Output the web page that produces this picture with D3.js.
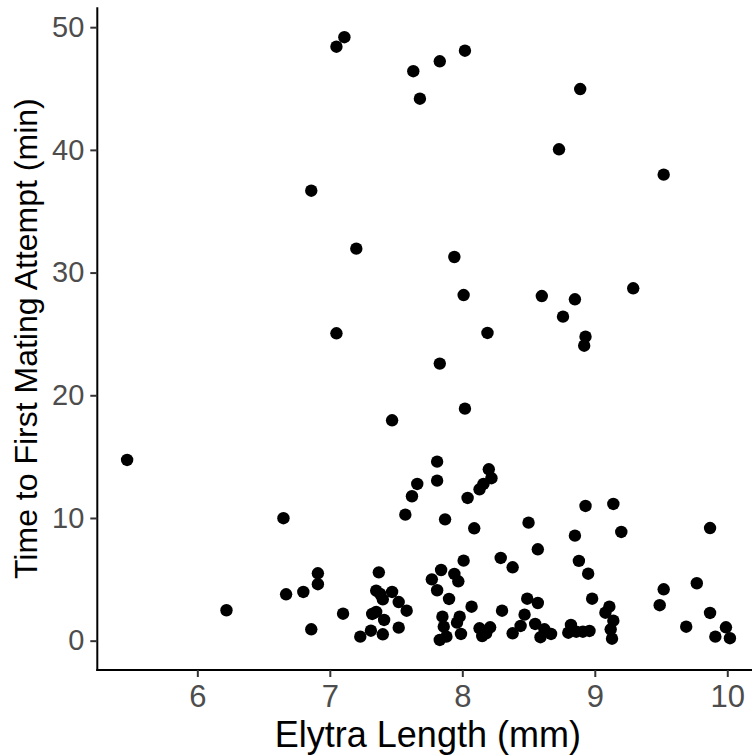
<!DOCTYPE html>
<html>
<head>
<meta charset="utf-8">
<script src="https://cdn.jsdelivr.net/npm/d3@7"></script>
<style>
  html, body { margin: 0; padding: 0; background: #fff; }
  svg { display: block; }
</style>
</head>
<body>
<div id="chart"></div>
<script>
// Data
const elytraLength = [
  7.11, 7.05, 7.63, 7.83, 8.02, 7.68, 8.89, 8.73, 9.52, 6.86,
  7.20, 7.94, 8.01, 8.60, 8.85, 8.76, 9.29, 8.93, 8.92, 8.19,
  7.05, 7.83, 7.47, 8.02, 5.47, 7.81, 7.81, 8.20, 8.22, 8.16,
  8.13, 8.04, 7.66, 7.62, 7.57, 7.87, 8.09, 6.65, 8.93, 9.14,
  9.20, 8.50, 8.57, 8.85, 8.88, 8.95, 9.87, 8.29, 8.38, 8.01,
  7.84, 7.77, 7.81, 7.94, 7.97, 7.90, 7.85, 7.86, 7.83, 7.88,
  7.96, 7.98, 7.99, 8.07, 8.13, 8.15, 8.21, 8.18, 8.30, 8.38,
  8.49, 8.57, 8.47, 8.44, 8.55, 8.59, 8.62, 8.67, 8.98, 8.82,
  8.80, 8.86, 8.91, 8.96, 9.11, 9.08, 9.14, 9.12, 9.13, 9.52,
  9.49, 9.77, 9.87, 9.69, 9.99, 9.91, 10.02, 6.80, 6.91, 6.91,
  6.86, 7.10, 7.37, 7.35, 7.38, 7.40, 7.47, 7.52, 7.58, 7.32,
  7.35, 7.41, 7.31, 7.23, 7.40, 7.52, 6.67, 6.22
];
const timeToMating = [
  49.18, 48.41, 46.41, 47.22, 48.08, 44.17, 44.96, 40.05, 37.98, 36.67,
  31.95, 31.27, 28.17, 28.09, 27.82, 26.41, 28.72, 24.78, 24.04, 25.08,
  25.05, 22.58, 17.96, 18.91, 14.73, 14.59, 13.04, 13.97, 13.24, 12.77,
  12.34, 11.63, 12.77, 11.77, 10.27, 9.89, 9.16, 9.98, 10.98, 11.14,
  8.86, 9.62, 7.45, 8.56, 6.50, 5.46, 9.18, 6.74, 5.98, 6.52,
  5.76, 5.00, 4.11, 5.44, 4.84, 3.40, 1.96, 1.14, 0.06, 0.33,
  1.47, 1.96, 0.55, 2.77, 1.01, 0.38, 1.09, 0.60, 2.44, 0.60,
  3.42, 3.07, 2.12, 1.20, 1.36, 0.28, 0.93, 0.55, 3.42, 1.28,
  0.65, 0.73, 0.73, 0.79, 2.77, 2.28, 1.63, 0.93, 0.16, 4.19,
  2.89, 4.68, 2.26, 1.14, 1.09, 0.33, 0.20, 3.97, 5.49, 4.60,
  0.93, 2.20, 5.57, 4.07, 3.81, 3.37, 3.97, 3.15, 2.44, 2.18,
  2.34, 1.69, 0.81, 0.33, 0.52, 1.06, 3.78, 2.48
];
const xTicks = [6, 7, 8, 9, 10];
const yTicks = [0, 10, 20, 30, 40, 50];
const xTitle = "Elytra Length (mm)";
const yTitle = "Time to First Mating Attempt (min)";

const W = 752, H = 755;
const panel = { left: 97.3, right: 760.4, top: 7.3, bottom: 670 };

const svg = d3.select("#chart").append("svg")
  .attr("width", W).attr("height", H)
  .style("font-family", "'Liberation Sans', Arial, Helvetica, sans-serif");

const x = d3.scaleLinear().domain([5.245, 10.25]).range([panel.left, panel.right]);
const y = d3.scaleLinear().domain([-2.39, 51.62]).range([panel.bottom, panel.top]);

// Points
const pts = elytraLength.map((v, i) => ({ x: v, y: timeToMating[i] }));
svg.append("g").selectAll("circle").data(pts).join("circle")
  .attr("cx", d => x(d.x))
  .attr("cy", d => y(d.y))
  .attr("r", 6.2)
  .attr("fill", "#000");

// X axis
const xAxis = svg.append("g")
  .attr("transform", `translate(0,${panel.bottom})`)
  .call(d3.axisBottom(x).tickValues(xTicks).tickFormat(d3.format("d")).tickSize(7).tickPadding(8));
xAxis.select(".domain").attr("stroke", "#000").attr("stroke-width", 2)
  .attr("d", `M${panel.left - 1},0H${W + 5}`);
xAxis.selectAll(".tick line").attr("stroke", "#333").attr("stroke-width", 2);
xAxis.selectAll(".tick text").attr("fill", "#4d4d4d").style("font-size", "31px")
  .style("font-family", "'Liberation Sans', Arial, sans-serif");

// Y axis
const yAxis = svg.append("g")
  .attr("transform", `translate(${panel.left},0)`)
  .call(d3.axisLeft(y).tickValues(yTicks).tickFormat(d3.format("d")).tickSize(7).tickPadding(6));
yAxis.select(".domain").attr("stroke", "#000").attr("stroke-width", 2)
  .attr("d", `M0,${panel.top}V${panel.bottom + 1}`);
yAxis.selectAll(".tick line").attr("stroke", "#333").attr("stroke-width", 2);
yAxis.selectAll(".tick text").attr("fill", "#4d4d4d").style("font-size", "29px")
  .style("font-family", "'Liberation Sans', Arial, sans-serif");

// Titles
svg.append("text")
  .attr("x", (panel.left + panel.right) / 2 - 1)
  .attr("y", 747)
  .attr("text-anchor", "middle")
  .style("font-size", "36px")
  .attr("fill", "#000")
  .text(xTitle);

svg.append("text")
  .attr("transform", `translate(37,${(panel.top + panel.bottom) / 2}) rotate(-90)`)
  .attr("text-anchor", "middle")
  .style("font-size", "32px")
  .attr("fill", "#000")
  .text(yTitle);
</script>
</body>
</html>
